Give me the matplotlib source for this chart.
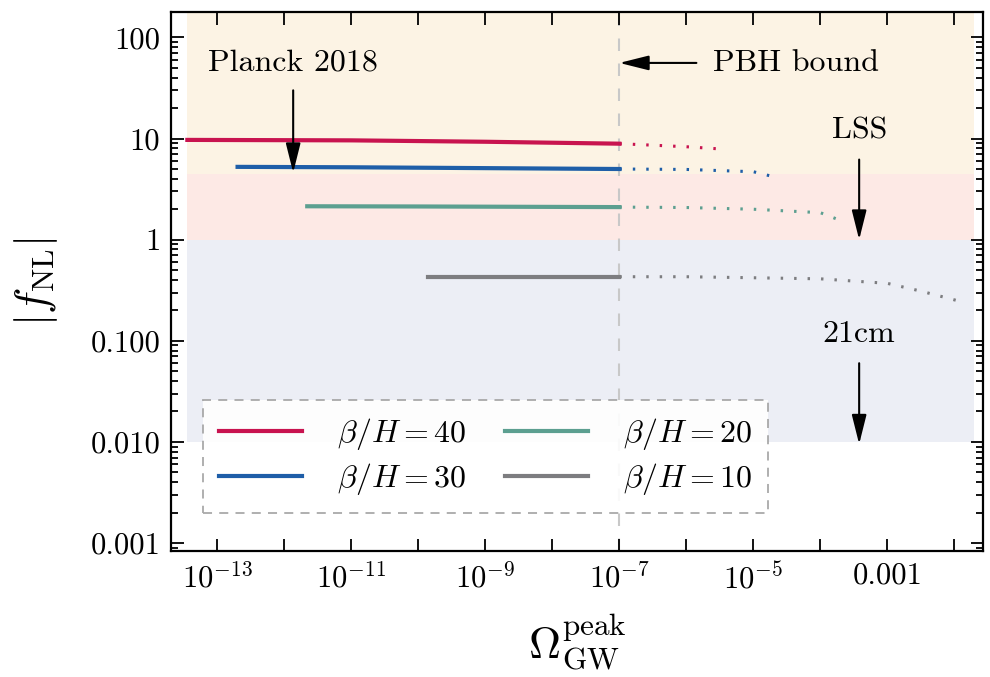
import numpy as np
import matplotlib
matplotlib.use("Agg")
import matplotlib.pyplot as plt
from matplotlib.ticker import FixedLocator, FuncFormatter, LogLocator, NullFormatter, NullLocator

plt.rcParams["mathtext.fontset"] = "cm"
plt.rcParams["font.family"] = ["cmr10", "DejaVu Serif"]
plt.rcParams["axes.formatter.use_mathtext"] = True

# solid parts (omega, |f_NL|) up to the PBH bound
omega_solid = {
    40: [10**-13.45, 1e-11, 1e-9, 1e-7],
    30: [10**-12.7, 1e-11, 1e-9, 1e-7],
    20: [10**-11.66, 1e-10, 1e-9, 1e-7],
    10: [10**-9.85, 1e-9, 1e-8, 1e-7],
}
fnl_solid = {
    40: [9.7, 9.6, 9.3, 8.9],
    30: [5.25, 5.2, 5.1, 5.0],
    20: [2.14, 2.13, 2.12, 2.1],
    10: [0.43, 0.43, 0.43, 0.43],
}
# dotted continuation beyond the bound
omega_dot = {
    40: [1e-7, 10**-6.5, 1e-6, 10**-5.5],
    30: [1e-7, 1e-6, 1e-5, 10**-4.7],
    20: [1e-7, 1e-6, 1e-5, 1e-4, 10**-3.7],
    10: [1e-7, 1e-6, 1e-5, 1e-4, 1e-3, 10**-2.5, 10**-1.96],
}
fnl_dot = {
    40: [8.9, 8.6, 8.3, 7.9],
    30: [5.0, 4.95, 4.7, 4.2],
    20: [2.1, 2.08, 2.0, 1.85, 1.55],
    10: [0.43, 0.43, 0.42, 0.41, 0.37, 0.31, 0.25],
}
beta_values = [40, 30, 20, 10]
colors = {40: "#c8134f", 30: "#1e5ea8", 20: "#5c9f90", 10: "#7d7d80"}

pbh_bound = 1e-7
shade_x = [10**-13.45, 10**-1.7]

fig, ax = plt.subplots(figsize=(9.9, 6.77), dpi=100)
fig.subplots_adjust(left=0.173, right=0.993, top=0.982, bottom=0.186)

ax.set_xscale("log")
ax.set_yscale("log")
ax.set_xlim(10**-13.69, 10**-1.57)
ax.set_ylim(10**-3.08, 10**2.25)

# constraint regions
ax.fill_between(shade_x, 4.5, 10**2.25, color="#fcf3e4", lw=0, zorder=0)
ax.fill_between(shade_x, 1, 4.5, color="#fde9e5", lw=0, zorder=0)
ax.fill_between(shade_x, 0.01, 1, color="#eceef5", lw=0, zorder=0)

ax.axvline(pbh_bound, color="#c8c8c8", ls=(0, (6, 6)), lw=1.5, zorder=1)

for b in beta_values:
    ax.plot(omega_solid[b], fnl_solid[b], color=colors[b], lw=3,
            label=rf"$\beta/H={b}$", zorder=3)
    ax.plot(omega_dot[b], fnl_dot[b], color=colors[b], lw=2.2,
            ls=(0, (0.8, 3.6)), zorder=3)

# annotations
arw = dict(arrowstyle="-|>,head_length=1.2,head_width=0.3", color="black",
           lw=1.5, mutation_scale=15, shrinkA=0, shrinkB=0)
ax.text(10**-11.87, 56, "Planck 2018", fontsize=23, ha="center", va="center")
ax.annotate("", xy=(10**-11.87, 4.6), xytext=(10**-11.87, 30), arrowprops=arw)
ax.text(10**-5.6, 56, "PBH bound", fontsize=23, ha="left", va="center")
ax.annotate("", xy=(1e-7, 56), xytext=(10**-5.85, 56), arrowprops=arw)
ax.text(10**-3.42, 12.0, "LSS", fontsize=23, ha="center", va="center")
ax.annotate("", xy=(10**-3.42, 1.0), xytext=(10**-3.42, 6.2), arrowprops=arw)
ax.text(10**-3.42, 0.115, "21cm", fontsize=23, ha="center", va="center")
ax.annotate("", xy=(10**-3.42, 0.0095), xytext=(10**-3.42, 0.06), arrowprops=arw)

# ticks
xt_major = [10.0**k for k in range(-13, -1)]
ax.xaxis.set_major_locator(FixedLocator(xt_major))
ax.xaxis.set_minor_locator(NullLocator())


def xfmt(v, pos):
    e = int(round(np.log10(v)))
    if e % 2 == 0:
        return ""
    if e == -3:
        return "0.001"
    return rf"$10^{{{e}}}$"


ax.xaxis.set_major_formatter(FuncFormatter(xfmt))

ylabels = {2: "100", 1: "10", 0: "1", -1: "0.100", -2: "0.010", -3: "0.001"}
ax.yaxis.set_major_locator(FixedLocator([10.0**k for k in range(-3, 3)]))
ax.yaxis.set_major_formatter(FuncFormatter(lambda v, p: ylabels[int(round(np.log10(v)))]))
ax.yaxis.set_minor_locator(LogLocator(base=10, subs=np.arange(2, 10)))
ax.yaxis.set_minor_formatter(NullFormatter())

ax.tick_params(which="both", direction="in", top=True, right=True, width=1.3)
ax.tick_params(which="major", length=9, labelsize=22, pad=8)
ax.tick_params(which="minor", length=5)
for s in ax.spines.values():
    s.set_linewidth(1.6)

ax.set_ylabel(r"$|f_{\rm NL}|$", fontsize=32, labelpad=22)
ax.set_xlabel(r"$\Omega_{\rm GW}^{\rm peak}$", fontsize=32, labelpad=12)

leg = ax.legend(ncol=2, loc="lower left", bbox_to_anchor=(0.039, 0.07),
                borderaxespad=0, fontsize=23, frameon=True, fancybox=False,
                handlelength=2.6, handletextpad=1.1, columnspacing=1.2,
                borderpad=0.5, labelspacing=0.3)
frame = leg.get_frame()
frame.set_edgecolor("#a0a0a0")
frame.set_linestyle((0, (5, 4)))
frame.set_linewidth(1.3)
frame.set_facecolor("white")
frame.set_alpha(0.9)

fig.savefig("out.png", dpi=100)
